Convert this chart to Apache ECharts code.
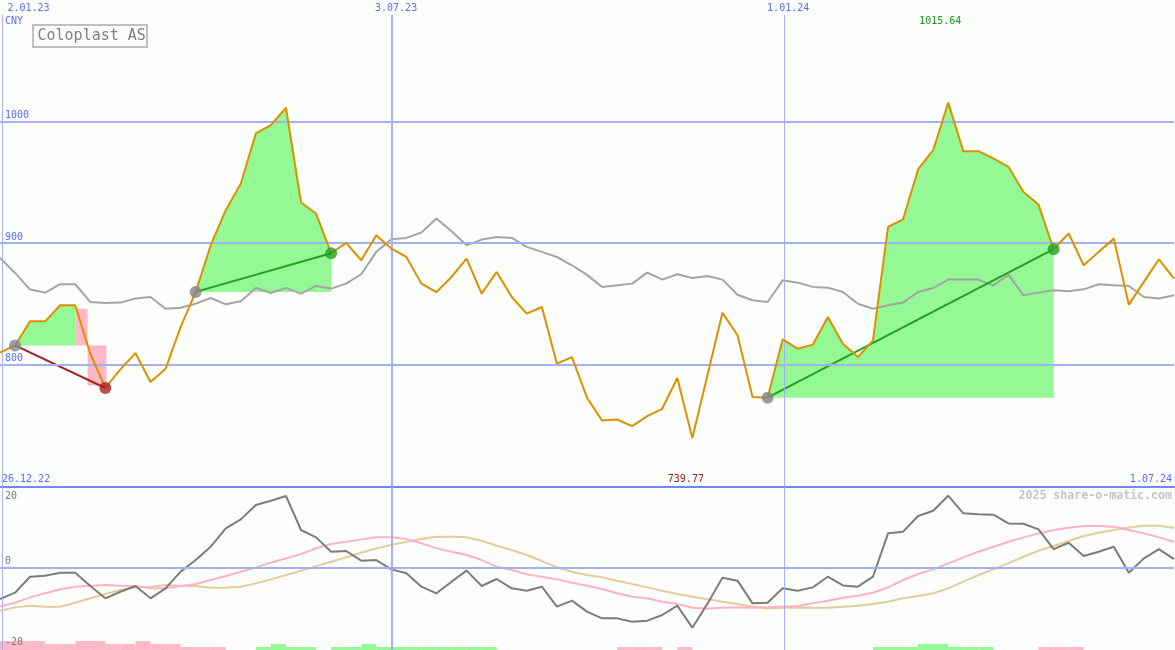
<!DOCTYPE html>
<html><head><meta charset="utf-8">
<script src="https://cdn.jsdelivr.net/npm/echarts@6/dist/echarts.min.js"></script>
<style>html,body{margin:0;padding:0;background:#fcfefc;}#c{width:1175px;height:650px;}</style>
</head><body><div id="c"></div>
<script>
// ---- data (weekly, index 0 = week of 1.01.23) ----
const price = [810.0,816,835.8,835.8,849.0,849.0,809.2,781.0,796.3,809.7,785.9,796.8,831.1,860,898.4,927.2,949.1,990.3,997.1,1011.4,
933.5,924.4,891.8,900.3,886.0,906.6,895.6,888.7,866.8,859.9,872.3,887.4,858.6,876.4,855.8,842.1,847.6,801.0,806.4,773.0,
754.3,755.1,749.7,757.9,763.9,789.2,739.77,791.3,842.9,824.3,773.5,773,821.0,813.3,816.6,839.4,817.4,806.4,820.2,913.4,
919.7,960.9,976.5,1015.64,975.7,975.7,969.7,962.8,942.2,931.8,895.1,908.0,881.9,892.9,903.8,849.5,868.2,886.8,870.9];
const bench = [887.9,875.6,861.9,859.4,866.3,866.3,851.7,850.9,851.2,854.5,855.8,846.2,847.0,850.3,855.0,849.8,852.3,863.2,859.1,863.2,
858.6,864.9,862.7,866.8,874.5,892.9,903.3,904.4,908.8,920.3,909.9,898.3,903.0,905.2,904.4,897.0,892.9,888.7,881.9,874,
864.1,865.4,866.8,875.8,870.1,874.5,871.5,873.1,870.1,857.7,853.1,851.7,869.5,867.6,864.1,863.5,859.9,850.3,846.2,849.0,
851.2,859.9,863.2,870.1,870.1,870.1,865.4,874.2,857.2,859.4,861.3,860.5,862.1,866.3,865.4,864.9,855.8,854.5,857.2];
const momentum = [-8.69,-6.94,-2.5,-2.22,-1.39,-1.39,-5.08,-8.5,-6.67,-5.08,-8.5,-5.73,-1.1,2.13,5.84,10.94,13.43,17.42,18.62,19.92,
10.47,8.43,4.45,4.64,1.95,2.13,-0.46,-1.56,-5.27,-7.11,-3.88,-0.82,-5.08,-3.14,-5.73,-6.38,-5.27,-10.82,-9.16,-12.21,
-14.07,-14.07,-14.99,-14.71,-13.14,-10.55,-16.66,-10,-2.77,-3.6,-9.9,-9.72,-5.73,-6.38,-5.46,-2.5,-4.91,-5.27,-2.5,9.54,
10.0,14.35,15.84,20.0,15.1,14.82,14.72,12.31,12.22,10.65,5.18,6.94,3.24,4.45,5.84,-1.39,2.59,5.18,2.4];
const avgFast = [-10.8,-9.72,-8.25,-7.11,-6.0,-5.27,-5.0,-4.8,-5.0,-5.08,-5.73,-5.73,-5.08,-4.55,-3.42,-2.3,-1.1,0.1,1.4,2.6,
3.8,5.4,6.58,7.22,7.87,8.43,8.43,7.97,6.76,5.37,4.45,3.52,2.13,0.28,-0.65,-1.85,-2.5,-3.24,-4.17,-5.0,
-5.92,-7.11,-8.05,-8.5,-9.44,-10.08,-11.1,-11.3,-11.1,-11.0,-11.1,-11.0,-10.8,-10.63,-9.9,-9.16,-8.33,-7.78,-6.94,-5.46,
-3.42,-1.76,-0.46,1.2,2.87,4.45,5.84,7.22,8.43,9.54,10.47,11.11,11.57,11.57,11.39,10.47,9.54,8.43,7.22];
const avgSlow = [-11.94,-11.02,-10.55,-10.83,-10.83,-9.72,-8.5,-7.3,-6.2,-5.46,-5.27,-4.8,-5.08,-5.08,-5.55,-5.55,-5.27,-4.35,-3.24,-2.04,
-0.84,0.45,1.65,2.87,4.17,5.37,6.3,7.23,7.97,8.6,8.6,8.43,7.5,6.12,4.91,3.52,1.85,0.1,-1.1,-2.04,
-2.68,-3.6,-4.55,-5.46,-6.38,-7.3,-8.05,-8.78,-9.44,-10.08,-10.83,-11.3,-11.1,-11.02,-11.1,-11.1,-10.83,-10.55,-10.08,-9.44,
-8.5,-7.87,-7.11,-5.73,-3.88,-2.04,-0.46,1.2,3.06,4.72,6.02,7.41,8.8,9.72,10.47,11.2,11.67,11.67,11.11];
// signal bars: + buy side (green), - sell side (pink), magnitude = level
const signal = [-3,-3,-3,-2,-2,-3,-3,-2,-2,-3,-2,-2,-1,-1,-1,0,0,1,2,1,1,0,1,1,2,1,1,1,1,1,1,1,1,0,0,0,0,0,0,0,0,-1,-1,-1,0,-1,0,0,0,0,0,0,0,0,0,0,0,0,1,1,1,2,2,1,1,1,0,0,0,-1,-1,-1,0,0,0,0,0,0,0];
const priceTicks = [800, 900, 1000];
const dateTickLabels = ['2.01.23','3.07.23','1.01.24'];
const dateTickWeeks = [0.13, 26.05, 52.1];
const tradeEntry = [1, 13, 51];
const tradeExit = [7, 22, 70];
const gainFills = [[1,5,816],[13,22,860],[51,70,773]];      // [fromWeek,toWeek,basePrice]
const lossBlocks = [[5,5.82,816,846.2],[5.82,7.07,783.1,816]]; // [x0,x1,yLow,yHigh]
const rangeLabels = ['26.12.22','1.07.24'];
const maxIdx = 63, minIdx = 46;

// ---- styles ----
const BLUE_LINE = '#a4b0f2', BLUE_TXT = '#5a6cf0', GREEN_FILL = '#94f894', PINK_FILL = '#ffb8c8';
const ORANGE = '#dc9000', GREEN_DOT = '#22a022', RED_DOT = '#a82222';
const dateLineWidths = [1, 2, 1];
const MONO = '"DejaVu Sans Mono", monospace';

const chart = echarts.init(document.getElementById('c'));
const pts = arr => arr.map((v, i) => [i, v]);

const series = [];
// grid lines (bottom layer)
series.push({type:'line', xAxisIndex:0, yAxisIndex:0, data:[], z:1, silent:true,
  markLine:{silent:true, symbol:'none', animation:false, label:{show:false},
    data: priceTicks.map(v => ({yAxis:v, lineStyle:{color:BLUE_LINE, width:2, type:'solid'}}))
      .concat(dateTickWeeks.map((w,i) => ({xAxis:w, lineStyle:{color:BLUE_LINE, width:dateLineWidths[i], type:'solid'}})))}});
series.push({type:'line', xAxisIndex:1, yAxisIndex:1, data:[], z:1, silent:true,
  markLine:{silent:true, symbol:'none', animation:false, label:{show:false},
    data: [{yAxis:0, lineStyle:{color:BLUE_LINE, width:2, type:'solid'}}]
      .concat(dateTickWeeks.map((w,i) => ({xAxis:w, lineStyle:{color:BLUE_LINE, width:dateLineWidths[i], type:'solid'}})))}});
// gain fills
series.push({type:'custom', xAxisIndex:0, yAxisIndex:0, z:2, silent:true,
  data: gainFills.map((g,i) => [g[0], g[2], i]), encode:{x:0, y:1},
  renderItem(params, api){
    const g = gainFills[api.value(2)];
    const p = [];
    for (let k = g[0]; k <= g[1]; k++) p.push(api.coord([k, price[k]]));
    p.push(api.coord([g[1], g[2]])); p.push(api.coord([g[0], g[2]]));
    return {type:'polygon', shape:{points:p}, style:{fill:GREEN_FILL}};
  }});
// loss blocks
series.push({type:'custom', xAxisIndex:0, yAxisIndex:0, z:2, silent:true,
  data: lossBlocks.map(b => b), encode:{x:0, y:2},
  renderItem(params, api){
    const a = api.coord([api.value(0), api.value(3)]);
    const b = api.coord([api.value(1), api.value(2)]);
    return {type:'rect', shape:{x:a[0], y:a[1], width:b[0]-a[0], height:b[1]-a[1]}, style:{fill:PINK_FILL}};
  }});
// benchmark line
series.push({type:'line', xAxisIndex:0, yAxisIndex:0, z:3, data:pts(bench), showSymbol:false, silent:true,
  lineStyle:{color:'#a4a4a4', width:2}});
// trade lines
tradeEntry.forEach((e, i) => {
  const x = tradeExit[i];
  const win = price[x] > price[e];
  series.push({type:'line', xAxisIndex:0, yAxisIndex:0, z:4, showSymbol:false, silent:true,
    data:[[e, price[e]], [x, price[x]]], lineStyle:{color: win ? GREEN_DOT : RED_DOT, width:2}});
});
// price line
series.push({type:'line', xAxisIndex:0, yAxisIndex:0, z:5, data:pts(price), showSymbol:false, silent:true,
  lineStyle:{color:ORANGE, width:2}});
// dots
const dots = [];
tradeEntry.forEach((e, i) => {
  const x = tradeExit[i];
  dots.push({value:[e, price[e]], itemStyle:{color:'#848484'}});
  dots.push({value:[x, price[x]], itemStyle:{color: price[x] > price[e] ? GREEN_DOT : RED_DOT}});
});
series.push({type:'scatter', xAxisIndex:0, yAxisIndex:0, z:6, symbolSize:12, data:dots, silent:true});
// lower panel
series.push({type:'custom', xAxisIndex:1, yAxisIndex:2, z:2, silent:true,
  data: signal.map((v,k) => [k, v]).filter(d => d[1] !== 0), encode:{x:0, y:1},
  renderItem(params, api){
    const k = api.value(0), v = api.value(1);
    const a = api.coord([k, Math.abs(v)]);
    const b = api.coord([k + 1, 0]);
    return {type:'rect', shape:{x:a[0], y:a[1], width:b[0]-a[0], height:b[1]-a[1]}, style:{fill: v > 0 ? GREEN_FILL : PINK_FILL}};
  }});
series.push({type:'line', xAxisIndex:1, yAxisIndex:1, z:3, data:pts(avgSlow), showSymbol:false, silent:true, lineStyle:{color:'#e2cc9c', width:2}});
series.push({type:'line', xAxisIndex:1, yAxisIndex:1, z:3, data:pts(avgFast), showSymbol:false, silent:true, lineStyle:{color:'#ffb2c6', width:2}});
series.push({type:'line', xAxisIndex:1, yAxisIndex:1, z:4, data:pts(momentum), showSymbol:false, silent:true, lineStyle:{color:'#7c7c7c', width:2}});

chart.setOption({
  animation:false,
  backgroundColor:'#fcfefc',
  grid:[{left:0, top:15, width:1174, height:471.5}, {left:0, top:487, width:1174, height:163}],
  xAxis:[
    {type:'value', gridIndex:0, min:0, max:78, axisLine:{show:true, onZero:false, lineStyle:{color:'#7486f0', width:2}},
      axisTick:{show:false}, axisLabel:{show:false}, splitLine:{show:false}},
    {type:'value', gridIndex:1, min:0, max:78, show:false, splitLine:{show:false}}
  ],
  yAxis:[
    {type:'value', gridIndex:0, min:700, max:1087.65, show:false, splitLine:{show:false}},
    {type:'value', gridIndex:1, min:-22.86, max:22.42, show:false, splitLine:{show:false}},
    {type:'value', gridIndex:1, min:0, max:54.33, show:false, splitLine:{show:false}}
  ],
  series
});

// ---- text labels ----
const g = [];
const txt = (text, x, y, color, align, size, weight) => g.push({type:'text', z:100, silent:true,
  style:{text, x, y, fill:color, font:(weight||'normal') + ' ' + (size||10) + 'px ' + MONO, textAlign:align||'left', textVerticalAlign:'middle', verticalAlign:'middle'}});
const px = w => chart.convertToPixel({xAxisIndex:0}, w);
const py = v => chart.convertToPixel({yAxisIndex:0}, v);
const pyl = v => chart.convertToPixel({yAxisIndex:1}, v);
dateTickLabels.forEach((l, i) => txt(l, Math.max(px(dateTickWeeks[i]) + 4, 28.5), 8.5, BLUE_TXT, 'center'));
txt('CNY', 5, 21, BLUE_TXT);
priceTicks.forEach(v => txt(String(v), 5, py(v) - 6, BLUE_TXT));
txt(rangeLabels[0], 2, 479, BLUE_TXT);
txt(rangeLabels[1], 1172, 479, BLUE_TXT, 'right');
txt(String(price[maxIdx]), px(maxIdx) - 8, 21, '#209020', 'center');
txt(String(price[minIdx]), px(minIdx) - 6.5, 479, '#a02020', 'center');
txt('20', 5, pyl(20) + 0.5, '#777777');
txt('0', 5, pyl(0) - 6, '#777777');
txt('-20', 5, pyl(-20) + 3, '#777777');
txt('2025 share-o-matic.com', 1172, 496, '#c4c4c4', 'right', 11.6, 'bold');
g.push({type:'rect', z:100, silent:true, shape:{x:33, y:25, width:114, height:22}, style:{fill:'#fcfefc', stroke:'#c0c0c0', lineWidth:2}});
txt('Coloplast AS', 37.5, 36.5, '#808080', 'left', 15);
chart.setOption({graphic:g});
</script></body></html>
